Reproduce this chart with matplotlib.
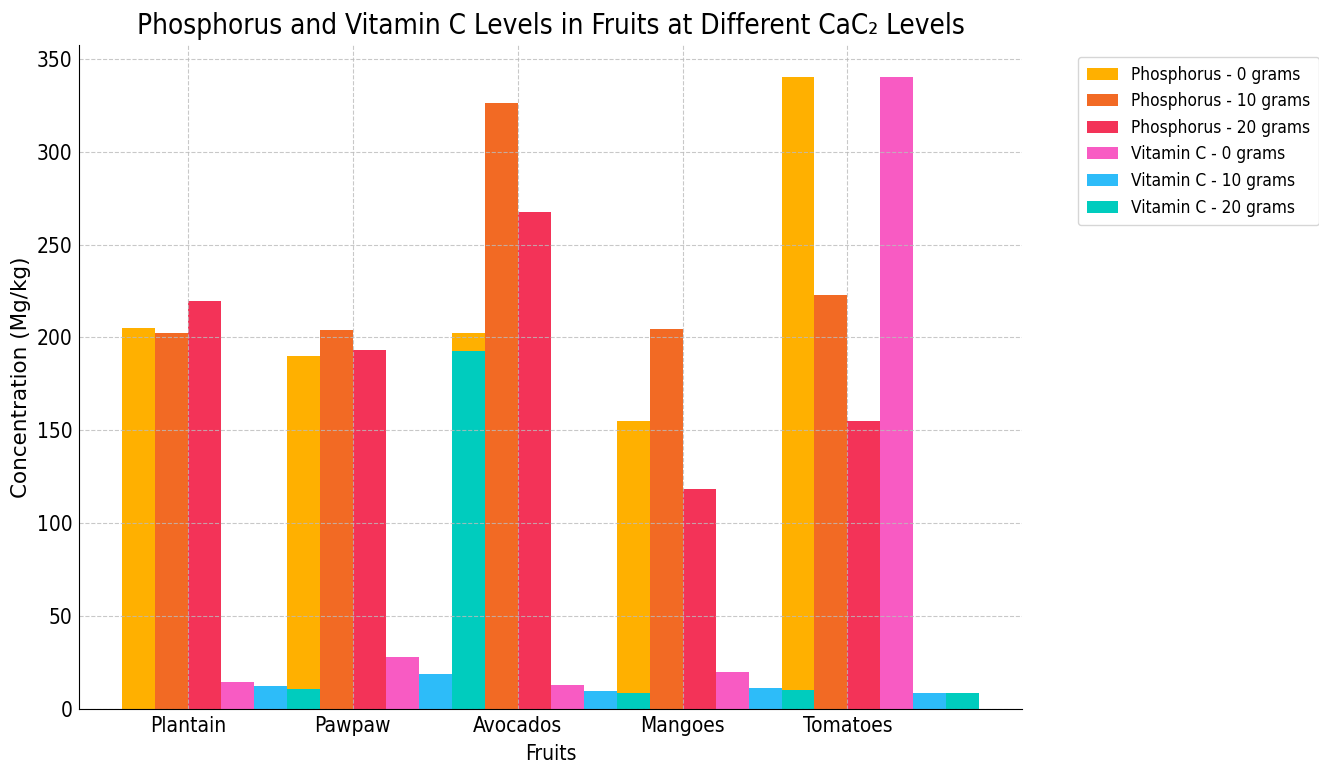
import matplotlib
matplotlib.use("Agg")
import matplotlib.pyplot as plt
import numpy as np

fruits = ["Plantain", "Pawpaw", "Avocados", "Mangoes", "Tomatoes"]
phos_0 = [205, 190, 202.5, 155, 340.5]
phos_10 = [202.5, 204, 326.5, 204.5, 223]
phos_20 = [219.5, 193, 267.5, 118.5, 155]
vitc_0 = [14.7, 28, 13, 20, 340.5]
vitc_10 = [12.3, 19, 9.8, 11.3, 8.6]
vitc_20 = [10.8, 192.8, 8.7, 10.2, 8.5]

series = [phos_0, phos_10, phos_20, vitc_0, vitc_10, vitc_20]
labels = ["Phosphorus - 0 grams", "Phosphorus - 10 grams", "Phosphorus - 20 grams",
          "Vitamin C - 0 grams", "Vitamin C - 10 grams", "Vitamin C - 20 grams"]
colors = ["#FFB000", "#F26A24", "#F33358", "#F85BC3", "#2DBCF9", "#00CCBE"]

plt.rcParams['font.family'] = ['DejaVu Sans']
plt.rcParams['font.stretch'] = 'condensed'

fig, ax = plt.subplots(figsize=(13.19, 7.63), dpi=100)
fig.subplots_adjust(left=0.06, right=0.775, bottom=0.071, top=0.941)

x = np.arange(len(fruits))
width = 0.2
for i, vals in enumerate(series):
    ax.bar(x + (i - 1.5) * width, vals, width, label=labels[i], color=colors[i])

ax.set_xticks(x)
ax.set_xticklabels(fruits)
ax.set_xlabel("Fruits", fontsize=15, labelpad=6)
ax.set_ylabel("Concentration (Mg/kg)", fontsize=15.5, fontstretch='normal')
ax.set_title("Phosphorus and Vitamin C Levels in Fruits at Different CaC\u2082 Levels", fontsize=20, pad=8)
ax.tick_params(axis='both', labelsize=15, length=0, pad=5)
ax.grid(True, linestyle='--', color='#bbbbbb', alpha=0.8)
ax.spines['top'].set_visible(False)
ax.spines['right'].set_visible(False)
ax.legend(loc='upper left', bbox_to_anchor=(1.05, 0.995), fontsize=12.4, borderpad=0.5,
          handlelength=1.8, handletextpad=0.8, labelspacing=0.5)

fig.savefig("out.png", dpi=100)
